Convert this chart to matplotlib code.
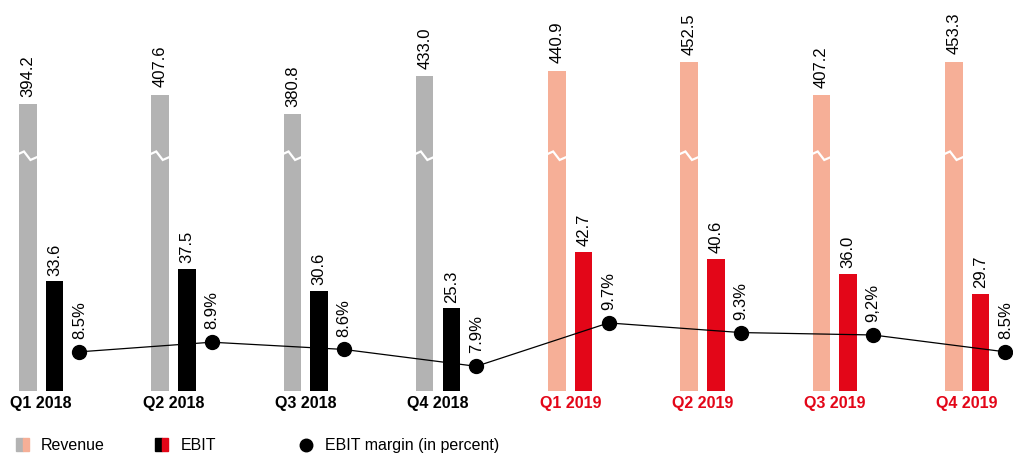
import matplotlib
matplotlib.use("Agg")
import matplotlib.pyplot as plt
import numpy as np

# Quarterly figures
quarters = ["Q1 2018", "Q2 2018", "Q3 2018", "Q4 2018",
            "Q1 2019", "Q2 2019", "Q3 2019", "Q4 2019"]
revenue = [394.2, 407.6, 380.8, 433.0, 440.9, 452.5, 407.2, 453.3]
ebit = [33.6, 37.5, 30.6, 25.3, 42.7, 40.6, 36.0, 29.7]
margin = [8.5, 8.9, 8.6, 7.9, 9.7, 9.3, 9.2, 8.5]
margin_labels = ["8.5%", "8.9%", "8.6%", "7.9%", "9.7%", "9.3%", "9,2%", "8.5%"]
years = [2018, 2018, 2018, 2018, 2019, 2019, 2019, 2019]

GREY = "#b3b3b3"
SALMON = "#f6af97"
BLACK = "#000000"
RED = "#e30618"

rev_colors = [GREY if y == 2018 else SALMON for y in years]
ebit_colors = [BLACK if y == 2018 else RED for y in years]
label_colors = [BLACK if y == 2018 else RED for y in years]

plt.rcParams["font.family"] = ["Liberation Sans", "DejaVu Sans"]

W, H = 1013, 456
fig = plt.figure(figsize=(W / 100, H / 100), dpi=100)
base_px = 391.7
ax = fig.add_axes([0, (H - base_px) / H, 1, base_px / H])
ax_e = ax.twinx()
ax_m = ax.twinx()

x = np.arange(len(quarters))
bw = 0.133
rev_off = -0.2018
dot_off = 0.1875

ax.set_xlim(-0.412, 7.245)
ax.set_ylim(0, 539.5)
ax_e.set_ylim(0, 120.5)
ax_m.set_ylim(6.888, 23.14)

for a in (ax, ax_e, ax_m):
    for s in a.spines.values():
        s.set_visible(False)
    a.set_yticks([])
    a.tick_params(axis="both", length=0)

VAL_FS = 12

# Revenue bars with axis-break marks
ax.bar(x + rev_off, revenue, width=bw, color=rev_colors, zorder=1)
for xi in x:
    xc = xi + rev_off
    xs = [xc - bw / 2 - 0.005, xc - bw / 2 + 0.28 * bw, xc - bw / 2 + 0.65 * bw, xc + bw / 2 + 0.005]
    ys = [326.0, 329.5, 317.8, 321.9]
    ax.plot(xs, ys, color="white", lw=1.6, solid_joinstyle="miter", zorder=2)
for xi, v in zip(x, revenue):
    ax.annotate(f"{v:.1f}", (xi + rev_off, v), xytext=(0, 6), textcoords="offset points",
                rotation=90, ha="center", va="bottom", fontsize=VAL_FS)

# EBIT bars
ax_e.bar(x, ebit, width=bw, color=ebit_colors, zorder=1)
for xi, v in zip(x, ebit):
    ax_e.annotate(f"{v:.1f}", (xi, v), xytext=(0, 5), textcoords="offset points",
                  rotation=90, ha="center", va="bottom", fontsize=VAL_FS)

# EBIT margin line
ax_m.plot(x + dot_off, margin, color="black", lw=0.9, marker="o", markersize=10,
          markerfacecolor="black", clip_on=False, zorder=3)
for xi, v, lab in zip(x, margin, margin_labels):
    ax_m.annotate(lab, (xi + dot_off, v), xytext=(0, 10), textcoords="offset points",
                  rotation=90, ha="center", va="bottom", fontsize=VAL_FS)

# Quarter labels
ax.set_xticks(x + rev_off / 2)
ax.set_xticklabels(quarters, fontsize=11.5, fontweight="bold")
for t, c in zip(ax.get_xticklabels(), label_colors):
    t.set_color(c)
ax.tick_params(axis="x", pad=3)

# Legend
ly = (H - 445.5) / H
sw_h = 13 / H
sw_w = 6.5 / W
def swatch(x0, c1, c2):
    fig.patches.append(plt.Rectangle((x0 / W, ly - sw_h / 2), sw_w, sw_h, color=c1,
                                     transform=fig.transFigure, figure=fig))
    fig.patches.append(plt.Rectangle((x0 / W + sw_w, ly - sw_h / 2), sw_w, sw_h, color=c2,
                                     transform=fig.transFigure, figure=fig))
swatch(16, GREY, SALMON)
fig.text(40.7 / W, ly, "Revenue", fontsize=11.5, va="center", ha="left")
swatch(155, BLACK, RED)
fig.text(180.3 / W, ly, "EBIT", fontsize=11.5, va="center", ha="left")
fig.lines.append(plt.Line2D([306 / W], [ly], marker="o", markersize=9, color="black",
                            transform=fig.transFigure, figure=fig))
fig.text(325 / W, ly, "EBIT margin (in percent)", fontsize=11.5, va="center", ha="left")

fig.savefig("out.png", dpi=100)
